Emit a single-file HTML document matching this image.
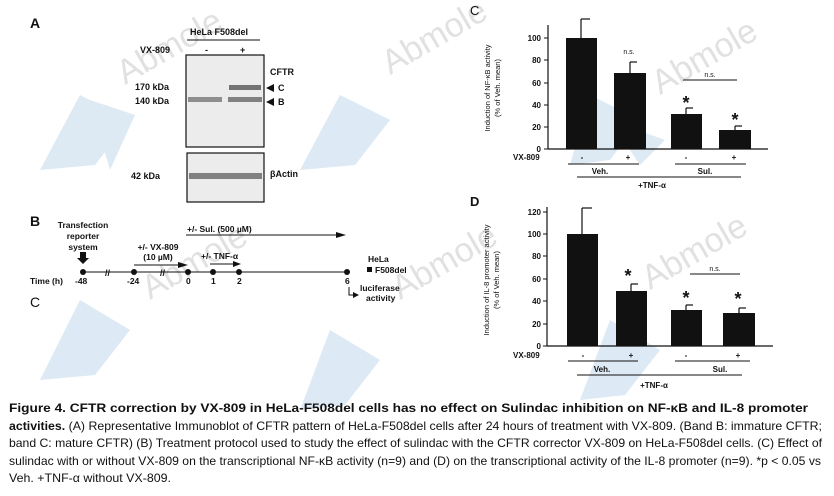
<!DOCTYPE html>
<html><head><meta charset="utf-8"><style>
html,body{margin:0;padding:0;background:#fff;}
svg{display:block;font-family:"Liberation Sans",Arial,sans-serif;}
</style></head><body>
<svg width="834" height="496" viewBox="0 0 834 496" xmlns="http://www.w3.org/2000/svg">
<!-- watermark shapes -->
<g fill="#cfe0ef" opacity="0.7">
<polygon points="40,170 80,95 130,120 95,165"/>
<polygon points="90,100 135,115 110,170"/>
<polygon points="300,170 340,95 390,120 355,165"/>
<polygon points="570,165 590,95 640,120 610,160"/>
<polygon points="610,120 665,140 640,165"/>
<polygon points="300,410 330,330 380,360 345,405"/>
<polygon points="40,380 80,300 130,330 95,375"/>
<polygon points="580,400 610,320 660,350 625,395"/>
</g>
<g fill="#bbb" opacity="0.45" font-size="34">
<text x="125" y="85" transform="rotate(-30 125 85)">Abmole</text>
<text x="390" y="75" transform="rotate(-30 390 75)">Abmole</text>
<text x="150" y="300" transform="rotate(-30 150 300)">Abmole</text>
<text x="400" y="300" transform="rotate(-30 400 300)">Abmole</text>
<text x="660" y="95" transform="rotate(-30 660 95)">Abmole</text>
<text x="650" y="290" transform="rotate(-30 650 290)">Abmole</text>
</g>

<!-- Panel A -->
<g fill="#111">
<text x="30" y="28" font-size="14" font-weight="bold">A</text>
<text x="190" y="35" font-size="9" font-weight="bold">HeLa F508del</text>
<line x1="187" y1="40" x2="260" y2="40" stroke="#111" stroke-width="1"/>
<text x="140" y="53" font-size="9" font-weight="bold">VX-809</text>
<text x="205" y="53" font-size="9" font-weight="bold">-</text>
<text x="240" y="53" font-size="9" font-weight="bold">+</text>
<rect x="186" y="55" width="78" height="92" fill="#ececec" stroke="#111" stroke-width="1.2"/>
<rect x="188" y="97" width="34" height="5" fill="#777" opacity="0.8"/>
<rect x="228" y="97" width="34" height="5" fill="#666" opacity="0.8"/>
<rect x="229" y="85" width="32" height="5" fill="#555" opacity="0.8"/>
<text x="135" y="90" font-size="9" font-weight="bold">170 kDa</text>
<text x="135" y="104" font-size="9" font-weight="bold">140 kDa</text>
<text x="270" y="75" font-size="9" font-weight="bold">CFTR</text>
<polygon points="266,88 274,84 274,92"/><text x="278" y="91" font-size="9" font-weight="bold">C</text>
<polygon points="266,102 274,98 274,106"/><text x="278" y="105" font-size="9" font-weight="bold">B</text>
<rect x="187" y="153" width="77" height="49" fill="#ececec" stroke="#111" stroke-width="1.2"/>
<rect x="189" y="173" width="73" height="6" fill="#666" opacity="0.8"/>
<text x="131" y="179" font-size="9" font-weight="bold">42 kDa</text>
<text x="270" y="177" font-size="9" font-weight="bold">βActin</text>
</g>

<!-- Panel B -->
<g fill="#111" font-size="8.5" font-weight="bold">
<text x="30" y="226" font-size="14">B</text>
<text x="83" y="228" text-anchor="middle">Transfection</text>
<text x="83" y="239" text-anchor="middle">reporter</text>
<text x="83" y="250" text-anchor="middle">system</text>
<polygon points="80,252 86,252 86,258 89,258 83,264 77,258 80,258"/>
<line x1="83" y1="272" x2="347" y2="272" stroke="#111" stroke-width="1"/>
<circle cx="83" cy="272" r="3"/><circle cx="134" cy="272" r="3"/><circle cx="188" cy="272" r="3"/>
<circle cx="213" cy="272" r="3"/><circle cx="239" cy="272" r="3"/><circle cx="347" cy="272" r="3"/>
<text x="105" y="276" font-size="9">//</text><text x="160" y="276" font-size="9">//</text>
<text x="30" y="284">Time (h)</text>
<text x="75" y="284">-48</text><text x="127" y="284">-24</text><text x="186" y="284">0</text>
<text x="211" y="284">1</text><text x="237" y="284">2</text><text x="345" y="284">6</text>
<text x="187" y="232">+/- Sul. (500 µM)</text>
<line x1="186" y1="235" x2="340" y2="235" stroke="#111"/><polygon points="346,235 336,232 336,238"/>
<text x="158" y="250" text-anchor="middle">+/- VX-809</text>
<text x="158" y="260" text-anchor="middle">(10 µM)</text>
<line x1="134" y1="265" x2="182" y2="265" stroke="#111"/><polygon points="188,265 178,262 178,268"/>
<text x="201" y="259">+/- TNF-α</text>
<line x1="210" y1="264" x2="236" y2="264" stroke="#111"/><polygon points="241,264 233,261 233,267"/>
<text x="368" y="262">HeLa</text>
<rect x="367" y="267" width="5" height="5"/><text x="375" y="273">F508del</text>
<path d="M349,287 V295 H355" fill="none" stroke="#111"/><polygon points="359,295 353,292 353,298"/>
<text x="360" y="291">luciferase</text><text x="366" y="301">activity</text>
<text x="30" y="307" font-size="14" font-weight="normal">C</text>
</g>

<!-- Panel C chart -->
<g fill="#111" font-size="8" font-weight="bold">
<text x="470" y="15" font-size="13" font-weight="normal">C</text>
<line x1="548" y1="25" x2="548" y2="149" stroke="#111" stroke-width="1.2"/>
<line x1="548" y1="149" x2="768" y2="149" stroke="#111" stroke-width="1.2"/>
<g text-anchor="end">
<text x="541" y="152">0</text><text x="541" y="130">20</text><text x="541" y="108">40</text>
<text x="541" y="86">60</text><text x="541" y="63">80</text><text x="541" y="41">100</text>
</g>
<g stroke="#111"><line x1="544" y1="149" x2="548" y2="149"/><line x1="544" y1="127" x2="548" y2="127"/><line x1="544" y1="105" x2="548" y2="105"/><line x1="544" y1="83" x2="548" y2="83"/><line x1="544" y1="60" x2="548" y2="60"/><line x1="544" y1="38" x2="548" y2="38"/></g>
<text transform="translate(490 88) rotate(-90)" text-anchor="middle" font-weight="normal" font-size="7.5">Induction of NF-κB activity</text>
<text transform="translate(500 88) rotate(-90)" text-anchor="middle" font-weight="normal" font-size="7.5">(% of Veh. mean)</text>
<g stroke="#111" stroke-width="1.2">
<line x1="581" y1="38" x2="581" y2="19"/><line x1="581" y1="19" x2="590" y2="19"/>
<line x1="630" y1="73" x2="630" y2="62"/><line x1="630" y1="62" x2="637" y2="62"/>
<line x1="686" y1="114" x2="686" y2="108"/><line x1="686" y1="108" x2="693" y2="108"/>
<line x1="735" y1="130" x2="735" y2="126"/><line x1="735" y1="126" x2="742" y2="126"/>
</g>
<rect x="566" y="38" width="31" height="111"/>
<rect x="614" y="73" width="32" height="76"/>
<rect x="671" y="114" width="31" height="35"/>
<rect x="719" y="130" width="32" height="19"/>
<text x="629" y="54" text-anchor="middle" font-weight="normal" font-size="7">n.s.</text>
<text x="710" y="77" text-anchor="middle" font-weight="normal" font-size="7">n.s.</text>
<line x1="683" y1="80" x2="737" y2="80" stroke="#111"/>
<text x="686" y="109" text-anchor="middle" font-size="18">*</text>
<text x="735" y="126" text-anchor="middle" font-size="18">*</text>
<text x="513" y="160">VX-809</text>
<text x="582" y="160" text-anchor="middle">-</text><text x="628" y="160" text-anchor="middle">+</text>
<text x="686" y="160" text-anchor="middle">-</text><text x="734" y="160" text-anchor="middle">+</text>
<line x1="568" y1="164" x2="639" y2="164" stroke="#111"/><line x1="675" y1="164" x2="746" y2="164"/>
<line x1="675" y1="164" x2="746" y2="164" stroke="#111"/>
<text x="600" y="174" text-anchor="middle">Veh.</text><text x="705" y="174" text-anchor="middle">Sul.</text>
<line x1="577" y1="177" x2="741" y2="177" stroke="#111"/>
<text x="652" y="188" text-anchor="middle">+TNF-α</text>
</g>

<!-- Panel D chart -->
<g fill="#111" font-size="8" font-weight="bold">
<text x="470" y="206" font-size="13">D</text>
<line x1="547" y1="207" x2="547" y2="346" stroke="#111" stroke-width="1.2"/>
<line x1="547" y1="346" x2="773" y2="346" stroke="#111" stroke-width="1.2"/>
<g text-anchor="end">
<text x="541" y="349">0</text><text x="541" y="327">20</text><text x="541" y="304">40</text>
<text x="541" y="282">60</text><text x="541" y="259">80</text><text x="541" y="237">100</text><text x="541" y="215">120</text>
</g>
<g stroke="#111"><line x1="543" y1="346" x2="547" y2="346"/><line x1="543" y1="324" x2="547" y2="324"/><line x1="543" y1="301" x2="547" y2="301"/><line x1="543" y1="279" x2="547" y2="279"/><line x1="543" y1="256" x2="547" y2="256"/><line x1="543" y1="234" x2="547" y2="234"/><line x1="543" y1="212" x2="547" y2="212"/></g>
<text transform="translate(489 280) rotate(-90)" text-anchor="middle" font-weight="normal" font-size="7.5">Induction of IL-8 promoter activity</text>
<text transform="translate(499 280) rotate(-90)" text-anchor="middle" font-weight="normal" font-size="7.5">(% of Veh. mean)</text>
<g stroke="#111" stroke-width="1.2">
<line x1="582" y1="234" x2="582" y2="208"/><line x1="582" y1="208" x2="592" y2="208"/>
<line x1="631" y1="291" x2="631" y2="284"/><line x1="631" y1="284" x2="638" y2="284"/>
<line x1="686" y1="310" x2="686" y2="305"/><line x1="686" y1="305" x2="693" y2="305"/>
<line x1="739" y1="313" x2="739" y2="308"/><line x1="739" y1="308" x2="746" y2="308"/>
</g>
<rect x="567" y="234" width="31" height="112"/>
<rect x="616" y="291" width="31" height="55"/>
<rect x="671" y="310" width="31" height="36"/>
<rect x="723" y="313" width="32" height="33"/>
<text x="628" y="282" text-anchor="middle" font-size="18">*</text>
<text x="686" y="304" text-anchor="middle" font-size="18">*</text>
<text x="738" y="305" text-anchor="middle" font-size="18">*</text>
<text x="715" y="271" text-anchor="middle" font-weight="normal" font-size="7">n.s.</text>
<line x1="690" y1="274" x2="740" y2="274" stroke="#111"/>
<text x="513" y="358">VX-809</text>
<text x="583" y="358" text-anchor="middle">-</text><text x="631" y="358" text-anchor="middle">+</text>
<text x="686" y="358" text-anchor="middle">-</text><text x="738" y="358" text-anchor="middle">+</text>
<line x1="568" y1="361" x2="638" y2="361" stroke="#111"/><line x1="675" y1="361" x2="750" y2="361" stroke="#111"/>
<text x="602" y="372" text-anchor="middle">Veh.</text><text x="720" y="372" text-anchor="middle">Sul.</text>
<line x1="577" y1="375" x2="742" y2="375" stroke="#111"/>
<text x="654" y="388" text-anchor="middle">+TNF-α</text>
</g>

<!-- Caption -->
<g fill="#111" font-size="12">
<text x="9" y="412" textLength="799" lengthAdjust="spacingAndGlyphs" font-weight="bold">Figure 4. CFTR correction by VX-809 in HeLa-F508del cells has no effect on Sulindac inhibition on NF-κB and IL-8 promoter</text>
<text x="9" y="430" textLength="813" lengthAdjust="spacingAndGlyphs"><tspan font-weight="bold">activities.</tspan> (A) Representative Immunoblot of CFTR pattern of HeLa-F508del cells after 24 hours of treatment with VX-809. (Band B: immature CFTR;</text>
<text x="9" y="447" textLength="813" lengthAdjust="spacingAndGlyphs">band C: mature CFTR) (B) Treatment protocol used to study the effect of sulindac with the CFTR corrector VX-809 on HeLa-F508del cells. (C) Effect of</text>
<text x="9" y="465" textLength="812" lengthAdjust="spacingAndGlyphs">sulindac with or without VX-809 on the transcriptional NF-κB activity (n=9) and (D) on the transcriptional activity of the IL-8 promoter (n=9). *p &lt; 0.05 vs</text>
<text x="9" y="482" textLength="162" lengthAdjust="spacingAndGlyphs">Veh. +TNF-α without VX-809.</text>
</g>
</svg>
</body></html>
